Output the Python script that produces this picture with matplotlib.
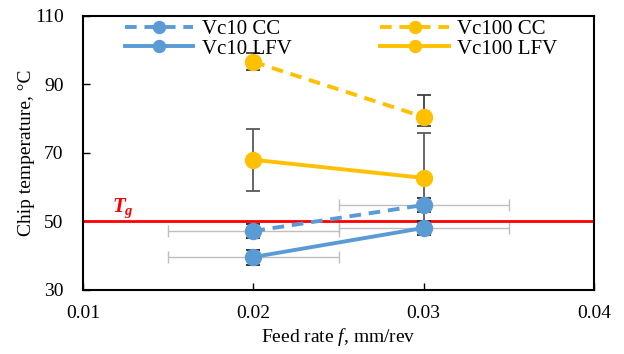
import matplotlib
matplotlib.use("Agg")
import matplotlib.pyplot as plt

plt.rcParams['font.family'] = ['Liberation Serif', 'DejaVu Serif']
plt.rcParams['mathtext.fontset'] = 'custom'
plt.rcParams['mathtext.it'] = 'Liberation Serif:italic'
plt.rcParams['mathtext.rm'] = 'Liberation Serif'
plt.rcParams['mathtext.bf'] = 'Liberation Serif:italic:bold'

feed = [0.02, 0.03]
vc10_cc = [47.2, 54.8]
vc10_lfv = [39.6, 48.1]
vc100_cc = [96.6, 80.5]
vc100_lfv = [68.0, 62.7]

vc10_cc_err = [2.0, 2.0]
vc10_lfv_err = [2.2, 2.1]
vc100_cc_err_low = [2.5, 2.5]
vc100_cc_err_high = [2.5, 6.5]
vc100_lfv_err = [9.0, 13.2]
feed_err = [0.005, 0.005]
tg = 50

blue = '#5B9BD5'
yellow = '#FFC000'

fig = plt.figure(figsize=(6.24, 3.54), dpi=100)
ax = fig.add_axes([0.133, 0.181, 0.819, 0.774])

for y in (vc10_cc, vc10_lfv):
    ax.errorbar(feed, y, xerr=feed_err, fmt='none', ecolor='#bfbfbf', elinewidth=1, capsize=4, capthick=1, zorder=1)

ax.axhline(tg, color='#FF0000', lw=2, zorder=2)
ax.text(0.0117, 52.8, r'$\mathbf{T_g}$', color='#FF0000', fontsize=15)

ax.errorbar(feed, vc100_cc, yerr=[vc100_cc_err_low, vc100_cc_err_high], fmt='none', ecolor='#404040', elinewidth=1.3, capsize=5, capthick=1.3, zorder=3)
ax.errorbar(feed, vc100_lfv, yerr=vc100_lfv_err, fmt='none', ecolor='#595959', elinewidth=1.3, capsize=5, capthick=1.3, zorder=3)
ax.errorbar(feed, vc10_cc, yerr=vc10_cc_err, fmt='none', ecolor='#262626', elinewidth=1.3, capsize=5, capthick=1.3, zorder=3)
ax.errorbar(feed, vc10_lfv, yerr=vc10_lfv_err, fmt='none', ecolor='#262626', elinewidth=1.3, capsize=5, capthick=1.3, zorder=3)

l1, = ax.plot(feed, vc10_cc, '--o', color=blue, lw=2.8, ms=11.5, dashes=(3, 2), label='Vc10 CC', zorder=4)
l3, = ax.plot(feed, vc100_cc, '--o', color=yellow, lw=2.8, ms=11.5, dashes=(3, 2), label='Vc100 CC', zorder=4)
l2, = ax.plot(feed, vc10_lfv, '-o', color=blue, lw=2.8, ms=11.5, label='Vc10 LFV', zorder=4)
l4, = ax.plot(feed, vc100_lfv, '-o', color=yellow, lw=2.8, ms=11.5, label='Vc100 LFV', zorder=4)

ax.set_xlim(0.01, 0.04)
ax.set_ylim(30, 110)
ax.set_xticks([0.01, 0.02, 0.03, 0.04])
ax.set_xticklabels(['0.01', '0.02', '0.03', '0.04'])
ax.set_yticks([30, 50, 70, 90, 110])
ax.tick_params(direction='in', labelsize=14, length=5, width=1)
ax.tick_params(axis='y', pad=14)
ax.tick_params(axis='x', pad=11)
for s in ax.spines.values():
    s.set_linewidth(1.5)

ax.set_xlabel(r'Feed rate $\mathit{f}$, mm/rev', fontsize=14, labelpad=3)
ax.set_ylabel('Chip temperature, \u00b0C', fontsize=14, labelpad=0)

ax.legend(handles=[l1, l2, l3, l4], ncol=2, loc='upper center', bbox_to_anchor=(0.505, 1.055),
          frameon=False, fontsize=15, handlelength=3.3, columnspacing=4.25,
          labelspacing=0.0, handletextpad=0.4, numpoints=1, markerscale=0.75)

fig.savefig('out.png', dpi=100)
